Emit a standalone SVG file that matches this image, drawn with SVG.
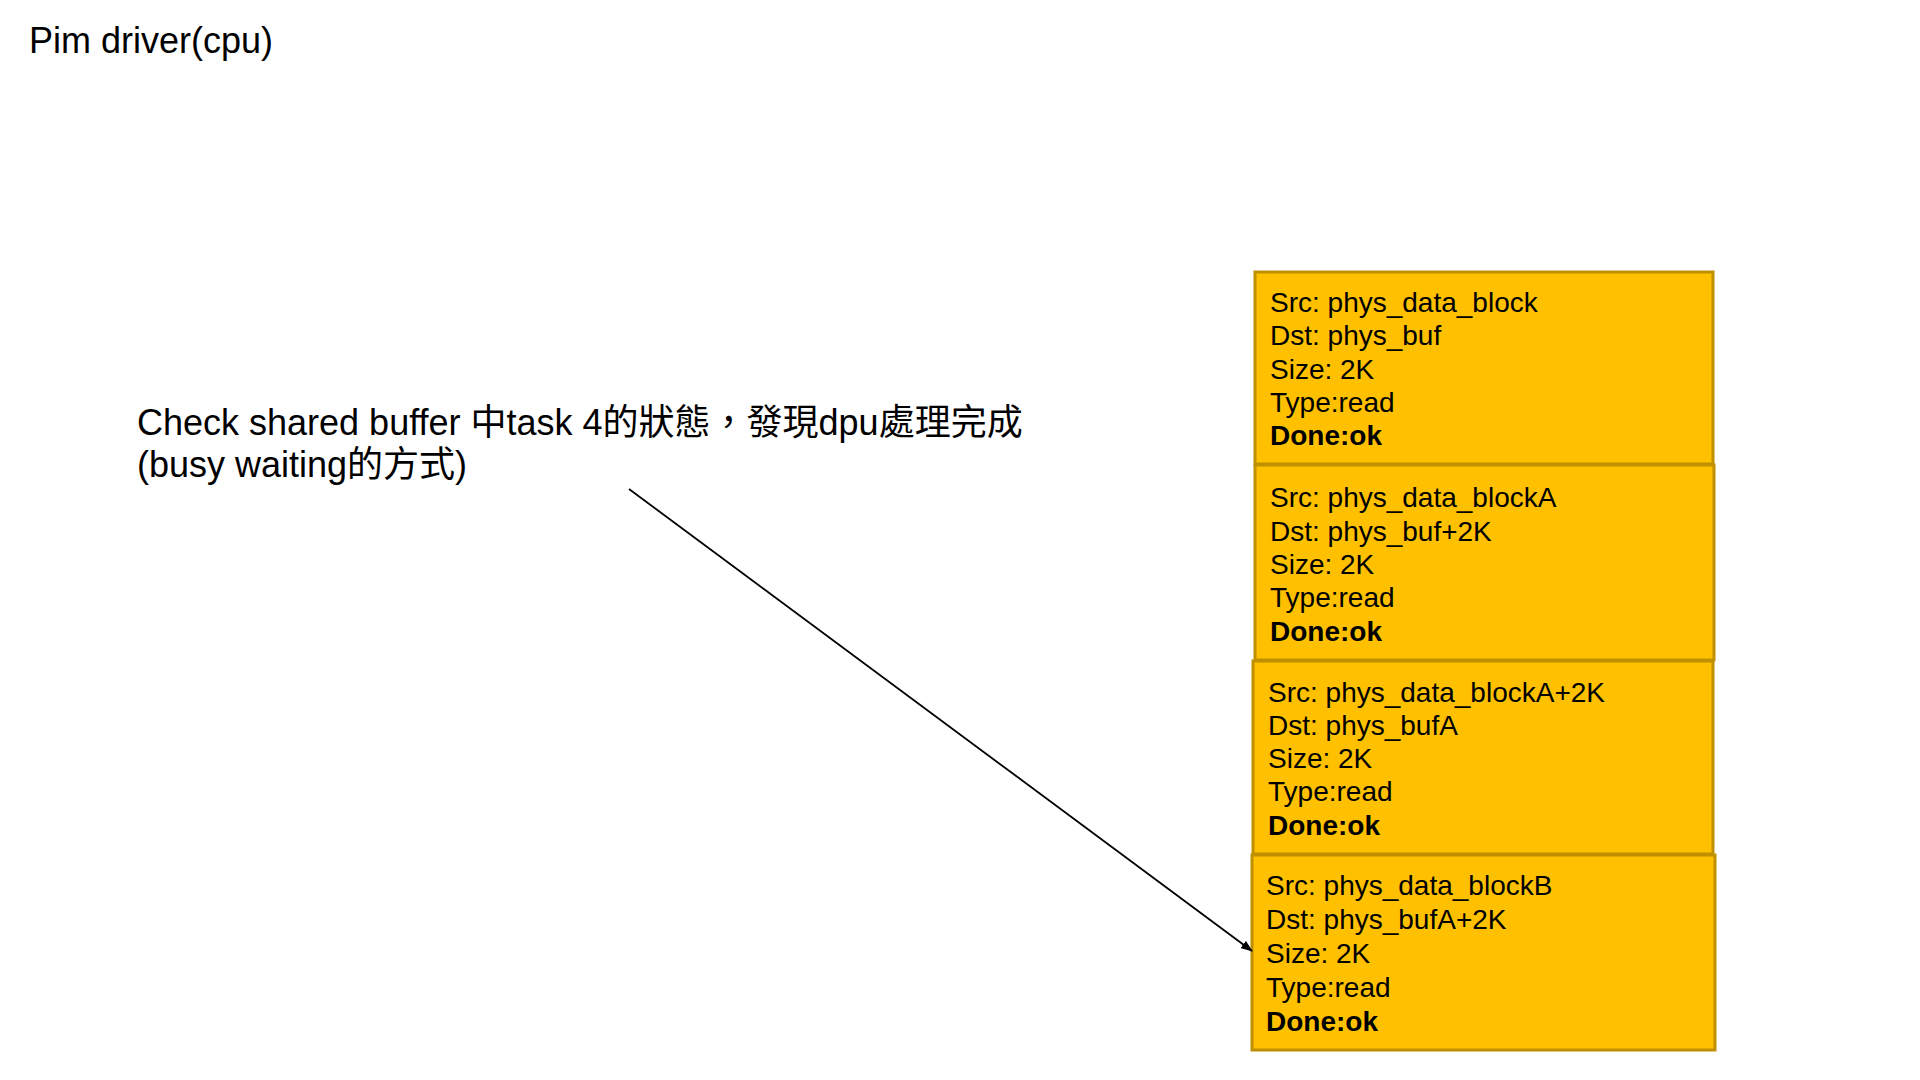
<svg xmlns="http://www.w3.org/2000/svg" width="1920" height="1080" viewBox="0 0 1920 1080">
  <style>
    .t { font-family: "Liberation Sans", "Noto Sans CJK TC", sans-serif; fill: #000; }
    .title { font-size: 36px; }
    .box { fill: #FFC000; stroke: #BF9000; stroke-width: 3; }
    .bt { font-family: "Liberation Sans", Arial, sans-serif; font-size: 28px; fill: #000; }
    .b { font-weight: bold; }
    .conn { stroke: #000; stroke-width: 1.8; fill: none; }
  </style>
  <defs>
    <marker id="arrow" markerWidth="12" markerHeight="9" refX="11" refY="4.5" orient="auto" markerUnits="userSpaceOnUse">
      <path d="M0,0 L12,4.5 L0,9 z" fill="#000"/>
    </marker>
  </defs>
  <rect width="1920" height="1080" fill="#fff"/>

  <g id="title">
    <text class="t title" x="29" y="53">Pim driver(cpu)</text>
  </g>

  <g id="note">
    <text class="t title" x="137" y="435" lang="zh-TW" xml:lang="zh-TW">Check shared buffer 中task 4的狀態，發現dpu處理完成</text>
    <text class="t title" x="137" y="477" lang="zh-TW" xml:lang="zh-TW">(busy waiting的方式)</text>
  </g>

  <g id="task1">
    <rect class="box" x="1255" y="272" width="458" height="192"/>
    <text class="bt" x="1270" y="312">Src: phys_data_block</text>
    <text class="bt" x="1270" y="345">Dst: phys_buf</text>
    <text class="bt" x="1270" y="379">Size: 2K</text>
    <text class="bt" x="1270" y="412">Type:read</text>
    <text class="bt b" x="1270" y="445">Done:ok</text>
  </g>

  <g id="task2">
    <rect class="box" x="1255" y="465" width="459" height="195"/>
    <text class="bt" x="1270" y="507">Src: phys_data_blockA</text>
    <text class="bt" x="1270" y="541">Dst: phys_buf+2K</text>
    <text class="bt" x="1270" y="574">Size: 2K</text>
    <text class="bt" x="1270" y="607">Type:read</text>
    <text class="bt b" x="1270" y="641">Done:ok</text>
  </g>

  <g id="task3">
    <rect class="box" x="1253" y="661" width="460" height="193"/>
    <text class="bt" x="1268" y="702">Src: phys_data_blockA+2K</text>
    <text class="bt" x="1268" y="735">Dst: phys_bufA</text>
    <text class="bt" x="1268" y="768">Size: 2K</text>
    <text class="bt" x="1268" y="801">Type:read</text>
    <text class="bt b" x="1268" y="835">Done:ok</text>
  </g>

  <g id="task4">
    <rect class="box" x="1252" y="855" width="463" height="195"/>
    <text class="bt" x="1266" y="895">Src: phys_data_blockB</text>
    <text class="bt" x="1266" y="929">Dst: phys_bufA+2K</text>
    <text class="bt" x="1266" y="963">Size: 2K</text>
    <text class="bt" x="1266" y="997">Type:read</text>
    <text class="bt b" x="1266" y="1031">Done:ok</text>
  </g>

  <g id="connectors">
    <line class="conn" x1="629" y1="489" x2="1252" y2="951" marker-end="url(#arrow)"/>
  </g>
</svg>
